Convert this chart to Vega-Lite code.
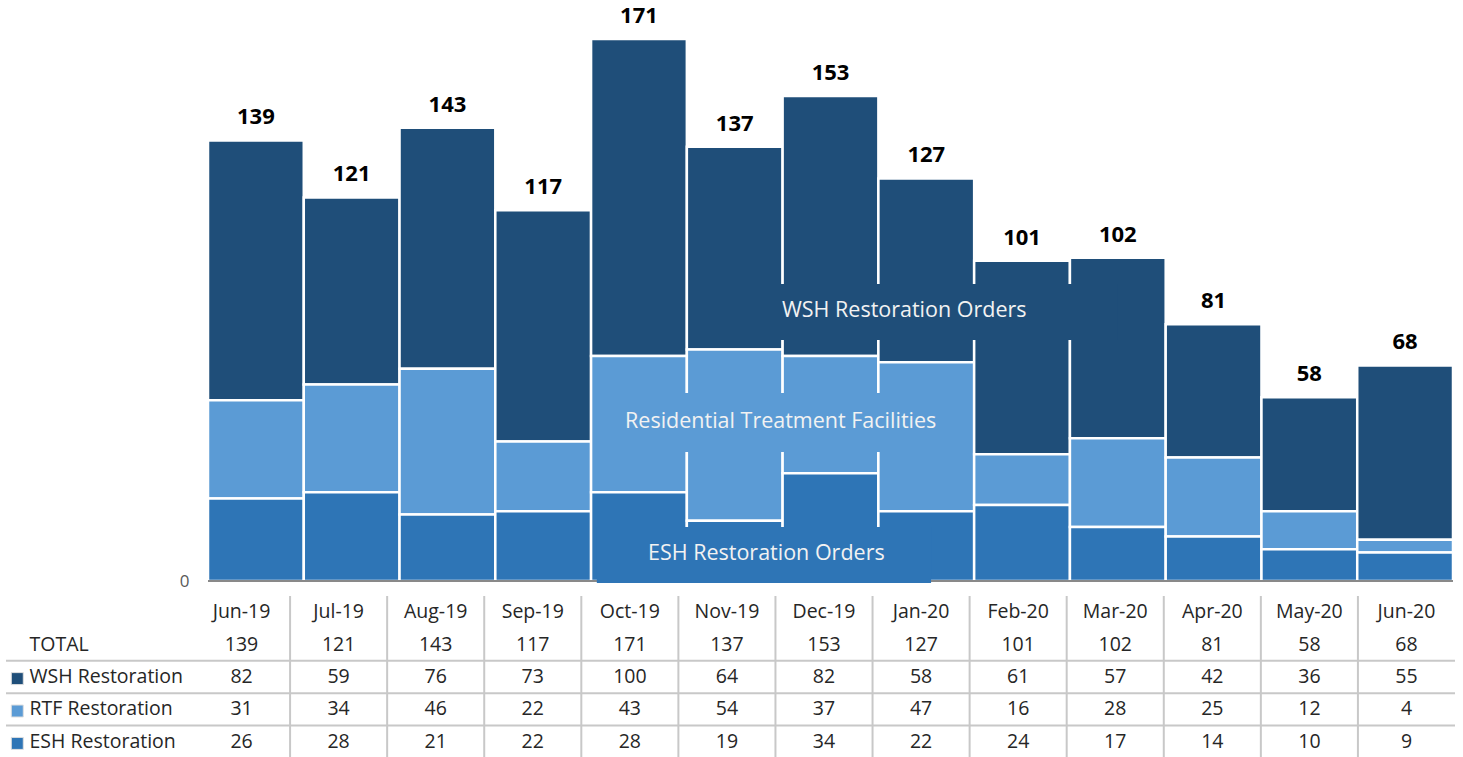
{
  "$schema": "https://vega.github.io/schema/vega-lite/v6.json",
  "padding": {"left": 5, "top": 0, "right": 0, "bottom": 0},
  "background": "white",
  "config": {"view": {"stroke": null}, "font": "Open Sans"},
  "datasets": {
    "months": [
      {"month": "Jun-19", "TOTAL": 139, "WSH Restoration": 82, "RTF Restoration": 31, "ESH Restoration": 26},
      {"month": "Jul-19", "TOTAL": 121, "WSH Restoration": 59, "RTF Restoration": 34, "ESH Restoration": 28},
      {"month": "Aug-19", "TOTAL": 143, "WSH Restoration": 76, "RTF Restoration": 46, "ESH Restoration": 21},
      {"month": "Sep-19", "TOTAL": 117, "WSH Restoration": 73, "RTF Restoration": 22, "ESH Restoration": 22},
      {"month": "Oct-19", "TOTAL": 171, "WSH Restoration": 100, "RTF Restoration": 43, "ESH Restoration": 28},
      {"month": "Nov-19", "TOTAL": 137, "WSH Restoration": 64, "RTF Restoration": 54, "ESH Restoration": 19},
      {"month": "Dec-19", "TOTAL": 153, "WSH Restoration": 82, "RTF Restoration": 37, "ESH Restoration": 34},
      {"month": "Jan-20", "TOTAL": 127, "WSH Restoration": 58, "RTF Restoration": 47, "ESH Restoration": 22},
      {"month": "Feb-20", "TOTAL": 101, "WSH Restoration": 61, "RTF Restoration": 16, "ESH Restoration": 24},
      {"month": "Mar-20", "TOTAL": 102, "WSH Restoration": 57, "RTF Restoration": 28, "ESH Restoration": 17},
      {"month": "Apr-20", "TOTAL": 81, "WSH Restoration": 42, "RTF Restoration": 25, "ESH Restoration": 14},
      {"month": "May-20", "TOTAL": 58, "WSH Restoration": 36, "RTF Restoration": 12, "ESH Restoration": 10},
      {"month": "Jun-20", "TOTAL": 68, "WSH Restoration": 55, "RTF Restoration": 4, "ESH Restoration": 9}
    ],
    "notes": [
      {"label": "WSH Restoration Orders", "series": "WSH Restoration", "x0": 5.03, "x1": 9.5, "y0": 76, "y1": 93.7, "tx": 7.27, "ty": 85.2},
      {"label": "Residential Treatment Facilities", "series": "RTF Restoration", "x0": 4.06, "x1": 7.9, "y0": 40.7, "y1": 59.3, "tx": 5.98, "ty": 50.2},
      {"label": "ESH Restoration Orders", "series": "ESH Restoration", "x0": 4.06, "x1": 7.55, "y0": -0.6, "y1": 17, "tx": 5.83, "ty": 8.5}
    ],
    "rows": [
      {"row": "WSH Restoration"},
      {"row": "RTF Restoration"},
      {"row": "ESH Restoration"}
    ]
  },
  "spacing": 6,
  "resolve": {"scale": {"x": "independent", "y": "independent"}},
  "vconcat": [
    {
      "width": 1449,
      "height": 581,
      "resolve": {"scale": {"x": "independent"}},
      "layer": [
        {
          "data": {"name": "months"},
          "transform": [{"fold": ["WSH Restoration", "RTF Restoration", "ESH Restoration"], "as": ["series", "count"]}],
          "mark": {"type": "bar", "stroke": "white", "strokeWidth": 2.5},
          "encoding": {
            "x": {"field": "month", "type": "ordinal", "sort": ["Jun-19","Jul-19","Aug-19","Sep-19","Oct-19","Nov-19","Dec-19","Jan-20","Feb-20","Mar-20","Apr-20","May-20","Jun-20"],
                  "scale": {"domain": ["Jun-19","Jul-19","Aug-19","Sep-19","Oct-19","Nov-19","Dec-19","Jan-20","Feb-20","Mar-20","Apr-20","May-20","Jun-20"], "range": [202, 1447], "paddingInner": 0, "paddingOuter": 0},
                  "axis": null},
            "y": {"field": "count", "type": "quantitative", "stack": "zero",
                  "scale": {"domain": [0, 183.3], "nice": false},
                  "axis": {"values": [0], "orient": "left", "offset": -202, "domain": false, "ticks": false, "tickSize": 0, "grid": false, "labelPadding": 19, "labelFontSize": 17, "labelColor": "#595959", "title": null}},
            "color": {"field": "series", "type": "nominal",
                      "scale": {"domain": ["WSH Restoration", "RTF Restoration", "ESH Restoration"], "range": ["#1F4E79", "#5B9BD5", "#2E75B6"]},
                      "legend": null},
            "order": {"field": "series", "sort": "ascending"}
          }
        },
        {
          "data": {"name": "months"},
          "mark": {"type": "rule", "color": "#898989", "strokeWidth": 2},
          "encoding": {
            "x": {"datum": 0, "type": "quantitative", "scale": {"domain": [0, 13], "range": [202, 1447], "nice": false, "zero": false}, "axis": null},
            "x2": {"datum": 13},
            "y": {"datum": 0, "type": "quantitative"}
          }
        },
        {
          "data": {"name": "notes"},
          "mark": {"type": "rect"},
          "encoding": {
            "x": {"field": "x0", "type": "quantitative", "scale": {"domain": [0, 13], "range": [202, 1447], "nice": false, "zero": false}, "axis": null},
            "x2": {"field": "x1"},
            "y": {"field": "y0", "type": "quantitative"},
            "y2": {"field": "y1"},
            "color": {"field": "series", "type": "nominal"}
          }
        },
        {
          "data": {"name": "notes"},
          "mark": {"type": "text", "fontSize": 21.5, "fill": "#f2f2f2", "align": "center", "baseline": "middle"},
          "encoding": {
            "x": {"field": "tx", "type": "quantitative", "scale": {"domain": [0, 13], "range": [202, 1447], "nice": false, "zero": false}, "axis": null},
            "y": {"field": "ty", "type": "quantitative"},
            "text": {"field": "label"}
          }
        },
        {
          "data": {"name": "months"},
          "mark": {"type": "text", "fontSize": 22, "fontWeight": "bold", "fill": "#000000", "align": "center", "baseline": "alphabetic", "dy": -16},
          "encoding": {
            "x": {"field": "month", "type": "ordinal",
                  "scale": {"domain": ["Jun-19","Jul-19","Aug-19","Sep-19","Oct-19","Nov-19","Dec-19","Jan-20","Feb-20","Mar-20","Apr-20","May-20","Jun-20"], "range": [202, 1447], "paddingInner": 0, "paddingOuter": 0},
                  "axis": null},
            "y": {"field": "TOTAL", "type": "quantitative"},
            "text": {"field": "TOTAL", "type": "quantitative"}
          }
        }
      ]
    },
    {
      "width": 1449,
      "height": 162,
      "resolve": {"scale": {"x": "independent"}},
      "layer": [
        {
          "data": {"name": "months"},
          "transform": [{"filter": "datum.month != 'Jun-19'"}],
          "mark": {"type": "rule", "color": "#c8c8c8", "strokeWidth": 2},
          "encoding": {
            "x": {"field": "month", "type": "ordinal", "bandPosition": 0,
                  "scale": {"domain": ["Jun-19","Jul-19","Aug-19","Sep-19","Oct-19","Nov-19","Dec-19","Jan-20","Feb-20","Mar-20","Apr-20","May-20","Jun-20"], "range": [187, 1449], "paddingInner": 0, "paddingOuter": 0},
                  "axis": null}
          }
        },
        {
          "data": {"name": "rows"},
          "mark": {"type": "rule", "color": "#c8c8c8", "strokeWidth": 2},
          "encoding": {
            "y": {"field": "row", "type": "nominal", "bandPosition": 0,
                  "scale": {"type": "band", "domain": ["month", "TOTAL", "WSH Restoration", "RTF Restoration", "ESH Restoration"], "paddingInner": 0, "paddingOuter": 0},
                  "axis": {"orient": "left", "offset": -23, "labelAlign": "left", "labelPadding": 0, "ticks": false, "tickSize": 0, "domain": false, "grid": false, "title": null,
                           "labelExpr": "datum.value == 'month' ? '' : datum.value", "labelFontSize": 19.5, "labelColor": "#262626", "labelFont": "Open Sans", "labelLimit": 300}}
          }
        },
        {
          "data": {"name": "rows"},
          "mark": {"type": "square", "size": 144, "filled": true, "opacity": 1, "stroke": "#e0e0e0", "strokeWidth": 1},
          "encoding": {
            "x": {"datum": -1.81, "type": "quantitative", "scale": {"domain": [0, 13], "range": [187, 1449], "nice": false, "zero": false}, "axis": null},
            "y": {"field": "row", "type": "nominal", "bandPosition": 0.55},
            "fill": {"field": "row", "type": "nominal",
                     "scale": {"domain": ["WSH Restoration", "RTF Restoration", "ESH Restoration"], "range": ["#1F4E79", "#5B9BD5", "#2E75B6"]},
                     "legend": null}
          }
        },
        {
          "data": {"name": "months"},
          "transform": [{"fold": ["month", "TOTAL", "WSH Restoration", "RTF Restoration", "ESH Restoration"], "as": ["row", "value"]}],
          "mark": {"type": "text", "fontSize": 19.5, "fill": "#262626", "align": "center", "baseline": "middle"},
          "encoding": {
            "x": {"field": "month", "type": "ordinal",
                  "scale": {"domain": ["Jun-19","Jul-19","Aug-19","Sep-19","Oct-19","Nov-19","Dec-19","Jan-20","Feb-20","Mar-20","Apr-20","May-20","Jun-20"], "range": [187, 1449], "paddingInner": 0, "paddingOuter": 0},
                  "axis": null},
            "y": {"field": "row", "type": "nominal"},
            "text": {"field": "value", "type": "nominal"}
          }
        }
      ]
    }
  ]
}
